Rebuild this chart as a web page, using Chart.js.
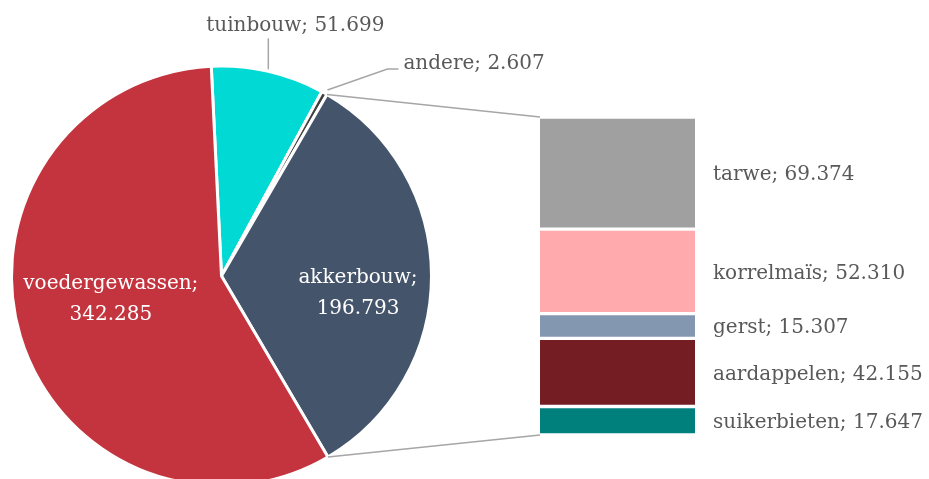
<!DOCTYPE html>
<html>
<head>
<meta charset="utf-8">
<title>Akkerbouw</title>
<script src="https://cdn.jsdelivr.net/npm/chart.js"></script>
<style>
  html, body { margin: 0; padding: 0; background: #fff; overflow: hidden; width: 929px; height: 479px; }
  .layer { position: absolute; left: 0; top: 0; width: 929px; height: 500px; }
</style>
</head>
<body>
<div class="layer"><canvas id="pieChart"></canvas></div>
<div class="layer"><canvas id="barChart"></canvas></div>
<script>
// pie: main categories
const pieLabels = ["tuinbouw", "andere", "akkerbouw", "voedergewassen"];
const pieValues = [51.699, 2.607, 196.793, 342.285];
const pieColors = ["#00d9d4", "#404040", "#44546a", "#c3343e"];

// bar: breakdown of akkerbouw
const barLabels = ["tarwe", "korrelmaïs", "gerst", "aardappelen", "suikerbieten"];
const barValues = [69.374, 52.310, 15.307, 42.155, 17.647];
const barColors = ["#a0a0a0", "#ffaaad", "#8497b0", "#741e24", "#00807c"];

const FONT = '20px "DejaVu Serif"';
const fmt = (v) => v.toFixed(3);
const barTotal = barValues.reduce((a, b) => a + b, 0);

const pie = new Chart(document.getElementById("pieChart"), {
  type: "pie",
  data: {
    labels: pieLabels,
    datasets: [{
      data: pieValues,
      backgroundColor: pieColors,
      borderColor: "#ffffff",
      borderWidth: 3
    }]
  },
  options: {
    animation: false,
    responsive: true,
    maintainAspectRatio: false,
    events: [],
    rotation: -2.8,
    radius: 210,
    layout: { padding: { left: 0, right: 486, top: 52, bottom: 0 } },
    plugins: { legend: { display: false }, tooltip: { enabled: false } }
  }
});

function edge(a, ang, extra) {
  const r = a.outerRadius + (extra || 0);
  return { x: a.x + r * Math.cos(ang), y: a.y + r * Math.sin(ang) };
}

const overlay = {
  id: "overlay",
  afterDraw(chart) {
    const ctx = chart.ctx;
    const arcs = pie.getDatasetMeta(0).data;
    const first = chart.getDatasetMeta(0).data[0];
    const last = chart.getDatasetMeta(barLabels.length - 1).data[0];
    const barLeft = first.x - first.width / 2;
    const barTop = Math.min(first.y, first.base);
    const barBottom = Math.max(last.y, last.base);
    ctx.save();

    // connectors from akkerbouw slice to the bar
    const akk = arcs[2];
    const p1 = edge(akk, akk.startAngle);
    const p2 = edge(akk, akk.endAngle);
    ctx.strokeStyle = "#a6a6a6";
    ctx.lineWidth = 1.5;
    ctx.beginPath();
    ctx.moveTo(p1.x, p1.y); ctx.lineTo(barLeft, barTop);
    ctx.moveTo(p2.x, p2.y); ctx.lineTo(barLeft, barBottom);
    ctx.stroke();

    ctx.font = FONT;
    ctx.textBaseline = "middle";

    // tuinbouw label with vertical leader
    const tb = arcs[0];
    const tp = edge(tb, (tb.startAngle + tb.endAngle) / 2);
    ctx.beginPath();
    ctx.moveTo(tp.x, tp.y - 2); ctx.lineTo(tp.x, tp.y - 33);
    ctx.stroke();
    ctx.fillStyle = "#595959";
    ctx.textAlign = "center";
    ctx.fillText(pieLabels[0] + "; " + fmt(pieValues[0]), tp.x + 27, tp.y - 45);

    // andere label with bent leader
    const an = arcs[1];
    const ap = edge(an, (an.startAngle + an.endAngle) / 2);
    ctx.beginPath();
    ctx.moveTo(ap.x + 3, ap.y - 3);
    ctx.lineTo(ap.x + 63, ap.y - 24);
    ctx.lineTo(ap.x + 74, ap.y - 24);
    ctx.stroke();
    ctx.textAlign = "left";
    ctx.fillText(pieLabels[1] + "; " + fmt(pieValues[1]), ap.x + 79, ap.y - 29);

    // inside labels
    ctx.fillStyle = "#ffffff";
    ctx.textAlign = "center";
    const inside = [{ i: 2, f: 0.65, dy: 2 }, { i: 3, f: 0.55, dy: -25 }];
    inside.forEach((o) => {
      const a = arcs[o.i];
      const m = (a.startAngle + a.endAngle) / 2;
      const cx = a.x + o.f * a.outerRadius * Math.cos(m);
      const cy = a.y + o.f * a.outerRadius * Math.sin(m) + o.dy;
      ctx.fillText(pieLabels[o.i] + ";", cx, cy);
      ctx.fillText(fmt(pieValues[o.i]), cx, cy + 31);
    });

    // bar labels
    ctx.fillStyle = "#595959";
    ctx.textAlign = "left";
    barLabels.forEach((l, i) => {
      const el = chart.getDatasetMeta(i).data[0];
      const right = el.x + el.width / 2;
      ctx.fillText(l + "; " + fmt(barValues[i]), right + 18, (el.y + el.base) / 2 + 2);
    });
    ctx.restore();
  }
};

new Chart(document.getElementById("barChart"), {
  type: "bar",
  data: {
    labels: ["akkerbouw"],
    datasets: barLabels.map((l, i) => ({
      label: l,
      data: [barValues[i]],
      backgroundColor: barColors[i],
      borderColor: "#ffffff",
      borderWidth: { top: 2, bottom: 2, left: 0, right: 0 },
      borderSkipped: false,
      barPercentage: 1,
      categoryPercentage: 1
    }))
  },
  options: {
    animation: false,
    responsive: true,
    maintainAspectRatio: false,
    events: [],
    layout: { padding: { left: 540, right: 234, top: 117, bottom: 65 } },
    scales: {
      x: { display: false, stacked: true },
      y: { display: false, stacked: true, min: 0, max: barTotal, reverse: true }
    },
    plugins: { legend: { display: false }, tooltip: { enabled: false } }
  },
  plugins: [overlay]
});
</script>
</body>
</html>
